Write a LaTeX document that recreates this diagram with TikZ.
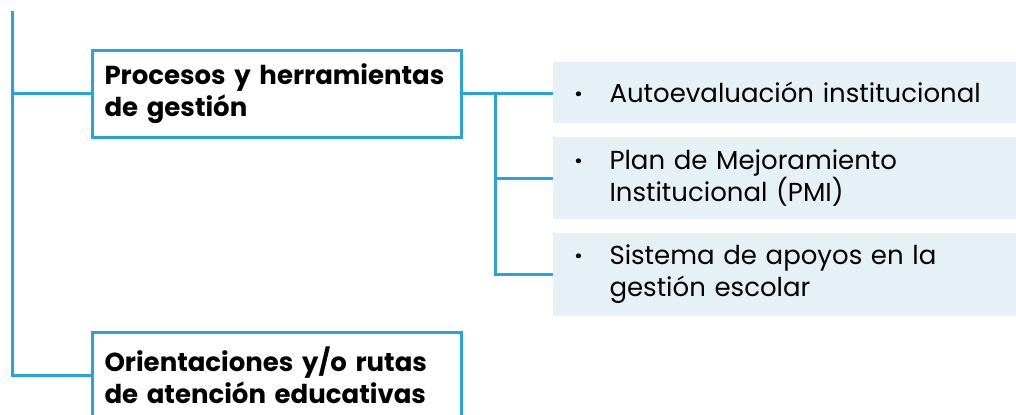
\documentclass[tikz,border=0pt]{standalone}
\usepackage{fontspec}
\setmainfont{Poppins}
\usepackage{tikz}
\usetikzlibrary{positioning}

\definecolor{lineblue}{HTML}{29A3DC}
\definecolor{itemfill}{HTML}{E6F1F6}

\newcommand{\dotmark}{\makebox[17.5pt][l]{\bfseries\textperiodcentered}}
\newcommand{\dotgap}{\hspace*{17.5pt}}

\tikzset{
  topic/.style={draw=lineblue,
    line width=1.5pt,
    anchor=north west,
    outer sep=0pt,
    minimum width=184.5pt,
    minimum height=43.5pt,
    inner xsep=6.25pt,
    text width=172pt,
    align=left,
    font=\bfseries\fontsize{13}{16}\selectfont},
  subitem/.style={fill=itemfill,
    anchor=north west,
    outer sep=0pt,
    minimum width=231.5pt,
    inner xsep=10.75pt,
    inner ysep=0pt,
    text width=210pt,
    align=left,
    font=\fontsize{13}{16}\selectfont}
}

\begin{document}
\begin{tikzpicture}[x=0.5pt,y=-0.5pt,line width=1.5pt]

\clip (0,0) rectangle (1016,414);

% Main topics
\node[topic] (proc) at (92,50) {Procesos y herramientas\\de gestión};
\node[topic] (orient) at (92,332) {Orientaciones y/o rutas\\de atención educativas};

% Items of the first topic
\node[subitem,
    minimum height=30.5pt] (item1) at (553,62) {\dotmark Autoevaluación institucional};

\node[subitem,
    below=7pt of item1.south west,
    anchor=north west,
    minimum height=41pt] (item2) {\dotmark Plan de Mejoramiento\\\dotgap Institucional (PMI)};

\node[subitem,
    below=7pt of item2.south west,
    anchor=north west,
    minimum height=41.5pt] (item3) {\dotmark Sistema de apoyos en la\\\dotgap gestión escolar};

% Connectors
\coordinate (top) at (12,11);
\coordinate (fork) at ([xshift=17pt]proc.east);

\draw[lineblue] (top) |- (proc.west)
    (top) |- (orient.west);

\draw[lineblue] (proc.east) -- (proc.east -| item1.west)
    (fork) |- (item2.west)
    (fork) |- (item3.west);

\end{tikzpicture}
\end{document}
